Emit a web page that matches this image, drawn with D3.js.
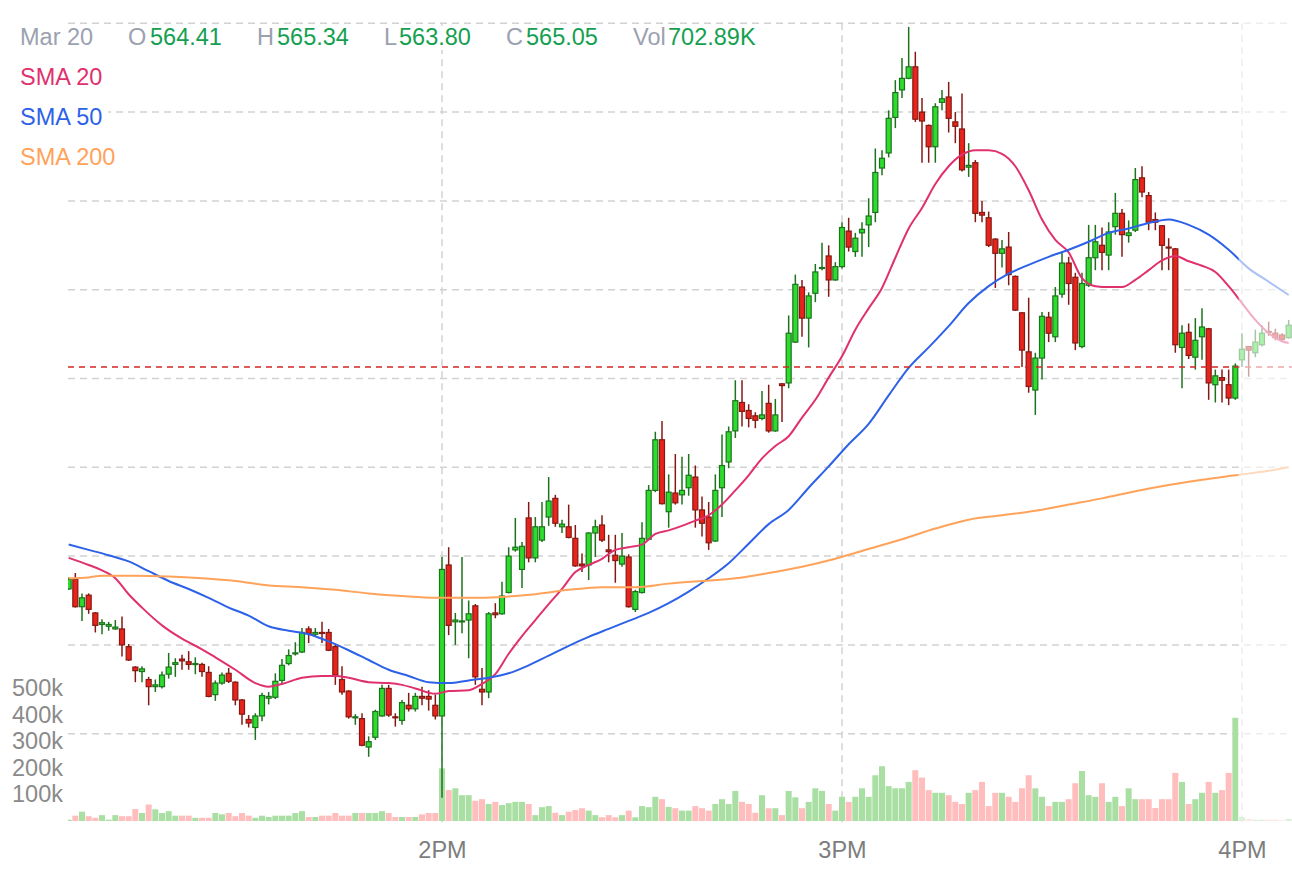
<!DOCTYPE html>
<html><head><meta charset="utf-8">
<script src="https://cdn.jsdelivr.net/npm/d3@7"></script>
<style>
body{margin:0;background:#fff;}
svg{display:block;font-family:"Liberation Sans",Arial,Helvetica,sans-serif;}
</style>
</head><body>
<svg id="chart" width="1292" height="881"></svg>
<script>
// ---------------- DATA ----------------
const tradeDay = "2025-03-20";
const firstCandle = "13:04";          // 1-minute candles, one per minute
const sessionClose = "16:00";          // after this: extended hours (faded)
const opens = [564.63,564.74,564.43,564.56,564.36,564.23,564.21,564.18,564.18,563.98,
563.75,563.70,563.61,563.53,563.53,563.67,563.78,563.84,563.81,563.78,
563.78,563.69,563.44,563.57,563.68,563.58,563.38,563.16,563.07,563.20,
563.40,563.41,563.60,563.79,563.90,563.92,564.18,564.12,564.14,564.14,
563.98,563.61,563.48,563.18,563.17,562.85,562.96,563.20,563.51,563.19,
563.15,563.32,563.28,563.42,563.42,563.32,563.20,564.90,564.26,564.26,
564.28,564.44,563.50,563.47,564.36,564.35,564.59,565.07,564.85,565.43,
564.98,565.18,565.44,565.65,565.33,565.33,565.20,564.91,564.90,565.26,
565.35,565.07,565.01,564.91,564.99,564.40,564.59,565.19,565.74,566.31,
565.50,565.71,565.69,565.77,565.89,565.52,565.44,565.17,565.77,566.06,
566.41,566.73,566.64,566.58,566.55,566.72,566.41,566.94,566.95,567.41,
568.03,567.68,567.96,568.24,568.38,568.11,568.26,568.66,568.43,568.64,
568.73,568.87,569.37,569.54,569.94,570.25,570.38,570.51,570.00,569.85,
569.61,570.11,570.17,569.89,569.81,569.38,569.43,568.87,568.81,568.57,
568.41,568.48,568.15,567.74,567.30,566.87,567.23,567.69,567.47,567.95,
568.30,568.14,567.36,568.05,568.36,568.50,568.39,568.71,568.86,568.61,
568.67,569.26,569.06,568.79,568.72,568.48,568.46,567.35,567.52,567.24,
567.47,567.56,566.93,567.01,566.93,566.78,567.21,567.36,567.29,567.38,
567.53,567.51,567.49,567.46];
const highs = [564.76,564.81,564.58,564.58,564.37,564.29,564.26,564.28,564.32,564.01,
563.76,563.76,563.64,563.61,563.70,563.91,563.85,563.89,563.93,563.86,
563.80,563.76,563.60,563.69,563.74,563.59,563.39,563.21,563.23,563.46,
563.47,563.68,563.84,563.95,564.03,564.19,564.21,564.19,564.26,564.18,
564.00,563.76,563.49,563.22,563.23,562.97,563.27,563.55,563.55,563.23,
563.38,563.46,563.46,563.53,563.49,563.44,564.99,565.10,564.36,564.99,
564.50,564.46,563.74,564.37,564.47,564.71,565.10,565.43,565.16,565.61,
565.44,565.61,565.89,565.69,565.41,565.58,565.35,565.03,565.27,565.41,
565.46,565.24,565.24,565.26,565.02,564.62,565.38,565.80,566.40,566.52,
565.92,566.15,566.12,566.15,566.02,565.67,565.61,565.92,566.37,566.46,
566.98,566.98,566.71,566.62,566.86,566.93,566.77,566.95,567.71,568.17,
568.11,567.97,568.29,568.53,568.50,568.31,568.76,568.81,568.64,568.76,
569.03,569.59,569.57,570.02,570.36,570.61,570.96,570.68,570.16,569.86,
570.10,570.25,570.34,570.00,570.21,569.65,569.46,569.00,568.88,568.58,
568.56,568.65,568.16,567.75,567.91,567.29,567.75,567.75,568.03,568.43,
568.37,568.19,568.19,568.73,568.73,568.70,568.76,569.09,568.91,568.78,
569.37,569.39,569.10,568.87,568.73,568.58,568.47,567.60,567.62,567.68,
567.79,567.57,567.10,567.10,567.10,567.17,567.51,567.36,567.55,567.60,
567.64,567.56,567.51,567.66];
const lows = [564.62,564.42,564.27,564.35,564.14,564.12,564.16,564.17,563.87,563.82,
563.58,563.58,563.32,563.47,563.51,563.62,563.64,563.72,563.72,563.67,
563.64,563.41,563.37,563.55,563.57,563.32,563.10,563.07,562.93,563.14,
563.33,563.39,563.55,563.77,563.88,563.91,564.02,564.10,564.02,563.93,
563.55,563.44,563.17,563.10,562.86,562.74,562.93,563.19,563.19,563.08,
563.10,563.25,563.25,563.32,563.26,563.16,562.28,564.11,564.00,564.13,
563.85,563.55,563.32,563.40,564.30,564.34,564.58,565.05,564.64,564.93,
564.93,565.16,565.34,565.33,565.26,565.20,564.88,564.82,564.73,564.99,
565.16,564.93,564.70,564.88,564.42,564.37,564.58,565.18,565.72,565.58,
565.32,565.58,565.58,565.68,565.32,565.22,565.07,565.16,565.44,565.99,
566.33,566.46,566.45,566.44,566.53,566.39,566.40,566.51,566.89,567.40,
567.47,567.35,567.86,568.22,567.92,568.10,568.24,568.43,568.37,568.37,
568.48,568.76,569.29,569.49,569.82,570.16,570.37,569.89,569.43,569.43,
569.43,570.02,569.77,569.65,569.33,569.27,568.76,568.76,568.48,568.02,
568.25,568.05,567.76,567.13,566.84,566.59,566.99,567.41,567.41,567.91,
567.83,567.32,567.34,568.03,568.22,568.22,568.22,568.62,568.37,568.53,
568.65,569.04,568.67,568.67,568.22,568.22,567.29,566.89,567.22,567.10,
567.21,566.76,566.73,566.73,566.70,566.76,567.13,567.02,567.24,567.36,
567.48,567.43,567.42,567.45];
const closes = [564.74,564.43,564.53,564.40,564.22,564.25,564.23,564.20,564.00,563.83,
563.71,563.73,563.53,563.55,563.66,563.75,563.80,563.82,563.78,563.79,
563.70,563.42,563.57,563.66,563.59,563.38,563.22,563.12,563.20,563.43,
563.42,563.59,563.77,563.88,563.91,564.14,564.13,564.14,564.13,563.94,
563.66,563.47,563.19,563.19,562.87,562.91,563.25,563.51,563.21,563.18,
563.35,563.28,563.42,563.40,563.39,563.20,564.85,564.22,564.28,564.27,
564.35,563.64,563.47,564.35,564.34,564.55,565.00,565.10,565.11,564.98,
565.33,565.33,565.62,565.37,565.36,565.21,564.89,564.89,565.26,565.33,
565.18,565.05,564.95,565.00,564.43,564.60,565.20,565.74,566.31,565.59,
565.72,565.60,565.74,565.91,565.52,565.37,565.15,565.74,566.02,566.40,
566.75,566.63,566.55,566.53,566.59,566.41,566.59,566.92,567.51,568.06,
567.68,567.93,568.20,568.25,568.11,568.26,568.70,568.48,568.58,568.68,
568.83,569.32,569.48,569.93,570.22,570.38,570.51,569.92,569.90,569.61,
570.06,570.15,569.93,569.84,569.35,569.40,568.86,568.84,568.50,568.41,
568.46,568.17,567.77,567.32,566.91,567.23,567.70,567.51,567.93,568.30,
568.07,567.40,568.07,568.36,568.54,568.42,568.65,568.86,568.62,568.64,
569.24,569.10,568.76,568.76,568.50,568.47,567.38,567.51,567.26,567.43,
567.58,566.95,567.03,566.98,566.78,567.14,567.33,567.32,567.41,567.51,
567.52,567.46,567.44,567.60];
const volumesK = [5,20,35,18,12,22,5,22,18,18,
45,30,62,44,30,37,20,20,20,12,
12,12,30,25,30,18,30,20,12,20,
15,20,20,20,30,37,15,15,20,20,
30,20,20,30,30,30,30,37,30,15,
15,15,15,25,30,30,198,116,123,97,
97,76,82,64,72,60,67,72,72,64,
22,52,56,31,22,35,41,48,39,22,
14,22,14,22,39,14,56,52,91,82,
53,48,39,39,56,48,39,64,82,64,
113,72,64,31,97,48,48,22,113,89,
48,72,123,113,64,39,91,72,91,123,
91,172,206,131,123,123,147,191,163,116,
106,106,97,72,64,106,116,147,56,106,
106,91,72,123,172,123,91,56,72,72,
82,142,188,97,91,142,72,91,56,123,
82,82,82,49,82,82,181,147,64,82,
106,147,106,116,181,388,15,8,5,5,
5,5,3,8];

const sma20 = [["13:04",564.98],["13:07",564.90],["13:09",564.84],["13:11",564.75],["13:13",564.57],["13:15",564.42],["13:18",564.22],["13:21",564.07],["13:24",563.95],["13:26",563.86],["13:29",563.72],["13:32",563.57],["13:34",563.53],["13:36",563.56],["13:39",563.63],["13:42",563.65],["13:44",563.65],["13:46",563.63],["13:49",563.58],["13:52",563.57],["13:54",563.55],["13:56",563.51],["13:59",563.45],["14:01",563.48],["14:04",563.49],["14:06",563.56],["14:08",563.67],["14:10",563.90],["14:12",564.10],["14:14",564.28],["14:16",564.46],["14:18",564.63],["14:20",564.82],["14:22",564.90],["14:24",564.97],["14:26",565.07],["14:28",565.10],["14:30",565.13],["14:32",565.25],["14:34",565.29],["14:36",565.34],["14:38",565.40],["14:40",565.46],["14:42",565.58],["14:44",565.74],["14:46",565.91],["14:48",566.10],["14:50",566.24],["14:52",566.35],["14:54",566.56],["14:56",566.76],["14:58",567.01],["15:00",567.25],["15:02",567.55],["15:04",567.79],["15:06",568.02],["15:08",568.36],["15:10",568.69],["15:12",568.92],["15:14",569.19],["15:16",569.39],["15:18",569.52],["15:20",569.57],["15:22",569.57],["15:24",569.53],["15:26",569.39],["15:28",569.12],["15:30",568.79],["15:32",568.56],["15:34",568.42],["15:36",568.13],["15:38",568.04],["15:40",568.03],["15:42",568.03],["15:44",568.11],["15:46",568.22],["15:48",568.33],["15:50",568.38],["15:52",568.32],["15:54",568.27],["15:56",568.20],["15:58",568.04],["16:00",567.85],["16:02",567.66],["16:04",567.51],["16:06",567.42],["16:07",567.40]];
const sma50 = [["13:04",565.13],["13:07",565.07],["13:10",565.01],["13:13",564.94],["13:16",564.83],["13:19",564.72],["13:22",564.63],["13:25",564.53],["13:28",564.42],["13:31",564.33],["13:34",564.21],["13:37",564.16],["13:40",564.12],["13:43",564.04],["13:46",563.94],["13:49",563.83],["13:52",563.72],["13:55",563.65],["13:58",563.58],["14:01",563.57],["14:04",563.60],["14:07",563.63],["14:10",563.68],["14:13",563.77],["14:16",563.88],["14:19",563.99],["14:22",564.09],["14:25",564.18],["14:28",564.27],["14:31",564.36],["14:34",564.47],["14:37",564.60],["14:40",564.75],["14:43",564.92],["14:46",565.14],["14:49",565.36],["14:52",565.52],["14:55",565.77],["14:58",566.01],["15:01",566.26],["15:04",566.49],["15:07",566.81],["15:10",567.12],["15:13",567.35],["15:16",567.59],["15:19",567.85],["15:22",568.04],["15:25",568.18],["15:28",568.28],["15:31",568.37],["15:34",568.45],["15:37",568.54],["15:40",568.64],["15:43",568.69],["15:46",568.75],["15:49",568.79],["15:52",568.73],["15:55",568.62],["15:58",568.45],["16:01",568.24],["16:04",568.09],["16:07",567.94]];
const sma200 = [["13:04",564.75],["13:07",564.76],["13:09",564.78],["13:14",564.78],["13:19",564.77],["13:24",564.75],["13:29",564.72],["13:34",564.67],["13:39",564.65],["13:44",564.62],["13:49",564.58],["13:54",564.55],["13:59",564.53],["14:04",564.53],["14:09",564.54],["14:14",564.57],["14:19",564.62],["14:24",564.65],["14:29",564.65],["14:34",564.69],["14:39",564.72],["14:44",564.75],["14:49",564.81],["14:54",564.88],["14:59",564.97],["15:04",565.08],["15:09",565.19],["15:14",565.31],["15:19",565.41],["15:24",565.46],["15:29",565.51],["15:34",565.58],["15:39",565.65],["15:44",565.73],["15:49",565.80],["15:54",565.86],["15:59",565.91],["16:04",565.96],["16:07",566.00]];

const regularClose = 567.13;
const priceGridLevels = [563,564,565,566,567,568,569,570,571];
const timeTicks = ["14:00","15:00","16:00"];
const volumeTicksK = [100,200,300,400,500];
const headerDate = "Mar 20";
const headerLabels = ["O","H","L","C","Vol"];
const headerValues = ["564.41","565.34","563.80","565.05","702.89K"];
const smaNames = ["SMA 20","SMA 50","SMA 200"];

// ---------------- STYLE / LAYOUT ----------------
const COL = {
  upFill:"#2ddc2d", upLine:"#1c731c", dnFill:"#e8241c", dnLine:"#841812",
  upVol:"#a9dfa3", dnVol:"#ffbdbd", grid:"#d2d2d2", close:"#d42626",
  sma:["#e0306e","#2d62e8","#ffa25a"], muted:"#9ba1b0", value:"#14a050",
  axis:"#7d7d7d"
};
const FS = 23.5;
const plot = {left:68, right:1292, top:20, bottom:823};

const parseT = d3.timeParse("%Y-%m-%d %H:%M");
const T = s => parseT(tradeDay + " " + s);
const t0 = T(firstCandle);
const candles = opens.map((o,i)=>({
  time: d3.timeMinute.offset(t0, i),
  open:o, high:highs[i], low:lows[i], close:closes[i], vol:volumesK[i]
}));

const x = d3.scaleTime().domain([T("13:00"), T("16:00")]).range([42, 1242]);
const y = d3.scaleLinear().domain([562, 571]).range([822.5, 23.3]);
const yv = d3.scaleLinear().domain([0, 500]).range([821, 688]);
const step = x(T("13:01")) - x(T("13:00"));

const svg = d3.select("#chart");
svg.append("rect").attr("width",1292).attr("height",881).attr("fill","#fff");
svg.append("defs").append("clipPath").attr("id","plotClip")
  .append("rect").attr("x",plot.left).attr("y",0)
  .attr("width",plot.right-plot.left).attr("height",plot.bottom);

// grid
const grid = svg.append("g").attr("stroke",COL.grid).attr("stroke-width",1.5)
  .attr("stroke-dasharray","7,5").attr("fill","none");
grid.selectAll("line.h").data(priceGridLevels).join("line").attr("class","h")
  .attr("x1",plot.left).attr("x2",plot.right)
  .attr("y1",d=>y(d)).attr("y2",d=>y(d));
grid.selectAll("line.v").data(timeTicks).join("line").attr("class","v")
  .attr("x1",d=>x(T(d))).attr("x2",d=>x(T(d)))
  .attr("y1",y(571)).attr("y2",plot.bottom);

const body = svg.append("g").attr("clip-path","url(#plotClip)");

// volume bars
body.append("g").selectAll("rect").data(candles).join("rect")
  .attr("x",d=>x(d.time)-3).attr("width",6)
  .attr("y",d=>yv(d.vol)).attr("height",d=>yv(0)-yv(d.vol))
  .attr("fill",d=>d.close>=d.open?COL.upVol:COL.dnVol);

// candles
const cg = body.append("g");
cg.selectAll("line").data(candles).join("line")
  .attr("x1",d=>x(d.time)).attr("x2",d=>x(d.time))
  .attr("y1",d=>y(d.high)).attr("y2",d=>y(d.low))
  .attr("stroke",d=>d.close>=d.open?COL.upLine:COL.dnLine).attr("stroke-width",1.5);
cg.selectAll("rect").data(candles).join("rect")
  .attr("x",d=>x(d.time)-2.5).attr("width",5)
  .attr("y",d=>y(Math.max(d.open,d.close)))
  .attr("height",d=>Math.max(1,Math.abs(y(d.open)-y(d.close))))
  .attr("fill",d=>d.close>=d.open?COL.upFill:COL.dnFill)
  .attr("stroke",d=>d.close>=d.open?COL.upLine:COL.dnLine).attr("stroke-width",1.2);

// SMA lines
const line = d3.line().x(d=>x(T(d[0]))).y(d=>y(d[1])).curve(d3.curveMonotoneX);
[sma20, sma50, sma200].forEach((s,i)=>{
  body.append("path").datum(s).attr("d",line).attr("fill","none")
    .attr("stroke",COL.sma[i]).attr("stroke-width",2);
});

// regular-session close line
body.append("line").attr("x1",plot.left).attr("x2",plot.right)
  .attr("y1",y(regularClose)).attr("y2",y(regularClose))
  .attr("stroke",COL.close).attr("stroke-width",1.6).attr("stroke-dasharray","6,5");

// extended-hours fade
const ahX = x(T(sessionClose)) - step/2;
svg.append("rect").attr("x",ahX).attr("y",plot.top)
  .attr("width",plot.right-ahX).attr("height",plot.bottom-plot.top)
  .attr("fill","#fff").attr("opacity",0.6);

// axes
const xAxis = svg.append("g").attr("transform",`translate(0,${plot.bottom-1})`)
  .call(d3.axisBottom(x).tickValues(timeTicks.map(T))
    .tickFormat(d3.timeFormat("%-I%p")).tickSize(0).tickPadding(19));
xAxis.select(".domain").remove();
xAxis.selectAll("text").attr("fill",COL.axis).attr("font-size",FS)
  .attr("font-family","Liberation Sans, Arial, sans-serif");

const vAxis = svg.append("g").attr("transform",`translate(${plot.left},0)`)
  .call(d3.axisLeft(yv).tickValues(volumeTicksK).tickFormat(d=>d+"k").tickSize(0).tickPadding(5));
vAxis.select(".domain").remove();
vAxis.selectAll("text").attr("fill","#8a8a8a").attr("font-size",FS)
  .attr("font-family","Liberation Sans, Arial, sans-serif");

// header
const hdr = svg.append("g").attr("font-size",FS);
hdr.append("rect").attr("x",14).attr("y",26).attr("width",750).attr("height",24).attr("fill","#fff");
hdr.append("text").attr("x",20).attr("y",44.5).attr("fill",COL.muted).text(headerDate);
const labelX = [128,257,384,506,633];
const valueX = [150,277,399,526,668];
headerLabels.forEach((l,i)=>{
  hdr.append("text").attr("x",labelX[i]).attr("y",44.5).attr("fill",COL.muted).text(l);
  hdr.append("text").attr("x",valueX[i]).attr("y",44.5).attr("fill",COL.value).text(headerValues[i]);
});

// SMA legend
const legY = [84.5,124.5,164.5];
smaNames.forEach((n,i)=>{
  const g = svg.append("g").attr("font-size",FS);
  const tx = g.append("text").attr("x",20).attr("y",legY[i]).attr("fill",COL.sma[i]).text(n);
  const bb = tx.node().getBBox();
  g.insert("rect","text").attr("x",14).attr("y",bb.y-2).attr("width",bb.width+12)
    .attr("height",bb.height+4).attr("fill","#fff");
});
</script>
</body></html>
